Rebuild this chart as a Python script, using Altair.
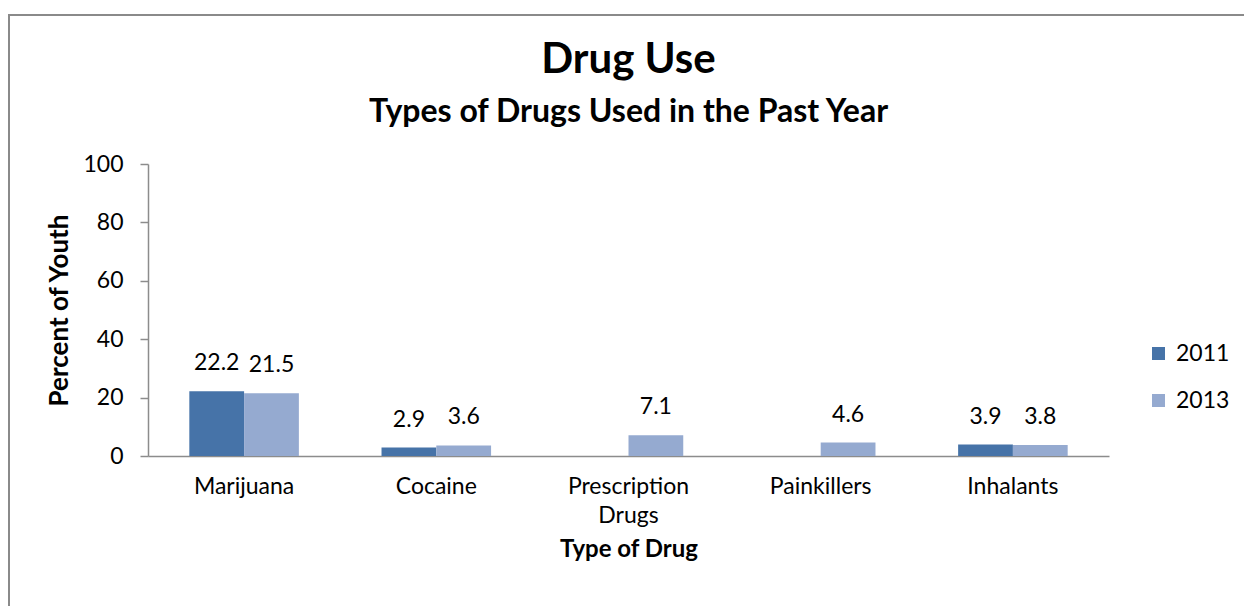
import altair as alt
import pandas as pd

categories = ["Marijuana", "Cocaine", "Prescription Drugs", "Painkillers", "Inhalants"]
years = ["2011", "2013"]
values_2011 = [22.2, 2.9, None, None, 3.9]
values_2013 = [21.5, 3.6, 7.1, 4.6, 3.8]

rows = []
for c, v in zip(categories, values_2011):
    if v is not None:
        rows.append({"drug": c, "year": "2011", "pct": v})
for c, v in zip(categories, values_2013):
    if v is not None:
        rows.append({"drug": c, "year": "2013", "pct": v})
df = pd.DataFrame(rows)

FONT = "Lato"
DARK = "#4673A8"
LIGHT = "#95AAD0"
AXIS = "#8C8C8C"

x_enc = alt.X("drug:N", sort=categories,
              scale=alt.Scale(paddingInner=0.43, paddingOuter=0.215),
              axis=alt.Axis(title="Type of Drug", labelAngle=0, ticks=False,
                            labelExpr="split(datum.label, ' ')",
                            labelLineHeight=29, labelPadding=19,
                            titlePadding=10, titleFontSize=24,
                            domainColor=AXIS, domainWidth=1.5))
y_enc = alt.Y("pct:Q", scale=alt.Scale(domain=[0, 100], nice=False),
              axis=alt.Axis(title="Percent of Youth", values=[0, 20, 40, 60, 80, 100],
                            grid=False, tickSize=8, tickColor=AXIS, tickWidth=1.5,
                            domainColor=AXIS, domainWidth=1.5, labelPadding=17,
                            titlePadding=10, titleFontSize=26))
xo = alt.XOffset("year:N", sort=years, scale=alt.Scale(paddingInner=0, paddingOuter=0))

bars = alt.Chart(df).mark_bar().encode(
    x=x_enc, y=y_enc, xOffset=xo,
    color=alt.Color("year:N", sort=years,
                    scale=alt.Scale(domain=years, range=[DARK, LIGHT]),
                    legend=alt.Legend(title=None, orient="none", legendX=999, legendY=178,
                                      symbolType="square", symbolSize=170,
                                      symbolStrokeWidth=0, labelFontSize=23,
                                      labelFont=FONT, rowPadding=23, labelOffset=6)),
)

labels = alt.Chart(df).mark_text(baseline="alphabetic", dy=-21, fontSize=23, font=FONT,
                                 color="#000000").encode(
    x=alt.X("drug:N", sort=categories), y="pct:Q", xOffset=xo,
    text=alt.Text("pct:Q", format=".1f"),
)

frame = alt.Chart(alt.Data(values=[{}])).mark_rect(fill=None, stroke="#8A8A8A", strokeWidth=2).encode(
    x=alt.value(-139), y=alt.value(-149), x2=alt.value(1400), y2=alt.value(800)
)

chart = alt.layer(frame, bars, labels).properties(
    width=961, height=292,
    padding={"left": 140, "top": 156, "right": 135, "bottom": 150},
    autosize=alt.AutoSizeParams(type="none"),
    title=alt.TitleParams(text="Drug Use", subtitle="Types of Drugs Used in the Past Year",
                          anchor="middle", font=FONT, fontSize=42, fontWeight="bold",
                          subtitleFont=FONT, subtitleFontSize=32, subtitleFontWeight="bold",
                          subtitleColor="#000000", color="#000000", subtitlePadding=15,
                          offset=-115),
).configure_view(stroke=None).configure_axis(
    labelFont=FONT, labelFontSize=23, labelColor="#000000",
    titleFont=FONT, titleFontWeight="bold", titleColor="#000000",
)

chart.save("out.html", embed_options={"renderer": "svg", "actions": False})
